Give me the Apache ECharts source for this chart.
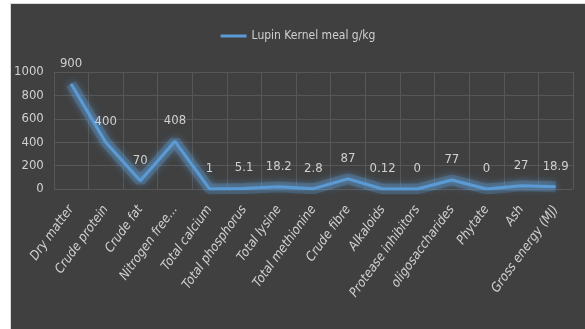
<!DOCTYPE html>
<html>
<head>
<meta charset="utf-8">
<script src="https://cdn.jsdelivr.net/npm/echarts@6/dist/echarts.min.js"></script>
<style>
  html, body { margin: 0; padding: 0; background: #ffffff; width: 585px; height: 329px; overflow: hidden; }
  #frame { position: absolute; left: 10px; top: 3px; width: 575px; height: 326px; background: #d9d9d9; }
  #chart { position: absolute; left: 11px; top: 4px; width: 574px; height: 325px; }
</style>
</head>
<body>
<div id="frame"></div>
<div id="chart"></div>
<script>
// Nutrient composition of lupin kernel meal
const categories = [
  'Dry matter', 'Crude protein', 'Crude fat', 'Nitrogen free...', 'Total calcium',
  'Total phosphorus', 'Total lysine', 'Total methionine', 'Crude fibre', 'Alkaloids',
  'Protease inhibitors', 'oligosaccharides', 'Phytate', 'Ash', 'Gross energy (MJ)'
];
const seriesName = 'Lupin Kernel meal g/kg';
const values = [900, 400, 70, 408, 1, 5.1, 18.2, 2.8, 87, 0.12, 0, 77, 0, 27, 18.9];
const yTicks = [0, 200, 400, 600, 800, 1000];

const fontFamily = "'Liberation Sans Narrow', 'DejaVu Sans Condensed', 'Open Sans', sans-serif";
const textColor = '#d0d0d0';
const lineColor = '#5b9bd5';

const chart = echarts.init(document.getElementById('chart'), null, { renderer: 'canvas' });
chart.setOption({
  backgroundColor: '#404040',
  animation: false,
  textStyle: { fontFamily: fontFamily, color: textColor },
  legend: {
    top: 21,
    left: 'center',
    itemWidth: 26,
    itemHeight: 3,
    itemGap: 3,
    icon: 'rect',
    textStyle: { color: textColor, fontSize: 12, fontFamily: fontFamily },
    data: [seriesName]
  },
  grid: { left: 42, right: 12, top: 68, height: 117 },
  xAxis: {
    type: 'category',
    data: categories,
    boundaryGap: true,
    axisLine: { show: false },
    axisTick: { show: false },
    splitLine: { show: true, lineStyle: { color: '#575757', width: 1 } },
    axisLabel: {
      rotate: 54,
      interval: 0,
      margin: 18,
      color: textColor,
      fontSize: 13,
      fontStyle: 'italic',
      fontFamily: fontFamily
    }
  },
  yAxis: {
    type: 'value',
    min: yTicks[0],
    max: yTicks[yTicks.length - 1],
    interval: yTicks[1] - yTicks[0],
    axisLine: { show: false },
    axisTick: { show: false },
    splitLine: { show: true, lineStyle: { color: '#575757', width: 1 } },
    axisLabel: {
      color: textColor, fontSize: 13, margin: 10, fontFamily: fontFamily,
      formatter: function (v) { return String(v); }
    }
  },
  series: [
    {
      // soft halo drawn beneath the main line
      name: 'glow',
      type: 'line',
      data: values,
      symbol: 'none',
      silent: true,
      z: 1,
      lineStyle: {
        color: 'rgba(91,155,213,0.28)',
        width: 11,
        shadowColor: 'rgba(91,155,213,0.6)',
        shadowBlur: 10
      },
      emphasis: { disabled: true }
    },
    {
      name: seriesName,
      type: 'line',
      data: values,
      symbol: 'circle',
      symbolSize: 0,
      showSymbol: true,
      z: 2,
      lineStyle: {
        color: lineColor,
        width: 3,
        shadowColor: 'rgba(110,175,235,0.9)',
        shadowBlur: 8
      },
      itemStyle: { color: lineColor },
      label: {
        show: true,
        position: 'top',
        distance: 14,
        color: textColor,
        fontSize: 13,
        fontFamily: fontFamily,
        formatter: function (p) { return String(p.value); }
      }
    }
  ]
});
</script>
</body>
</html>
